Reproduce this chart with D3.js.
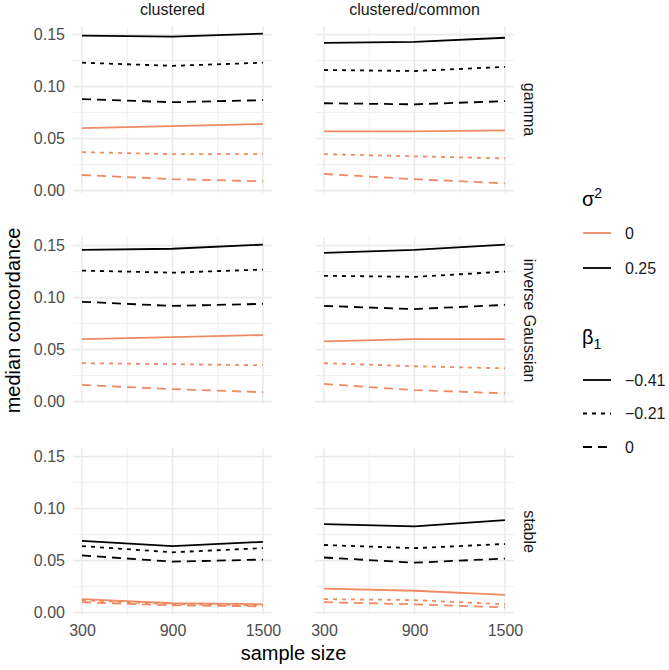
<!DOCTYPE html>
<html><head><meta charset="utf-8">
<script src="https://cdn.jsdelivr.net/npm/d3@7"></script>
<style>body{margin:0;background:#fff}text{font-family:"Liberation Sans",Arial,Helvetica,sans-serif}</style>
</head><body><svg id="c" width="669" height="670"></svg>
<script>
const sampleSizes = [300, 900, 1500];
const models = ["clustered", "clustered/common"];
const distributions = ["gamma", "inverse Gaussian", "stable"];
const sigma2Levels = ["0", "0.25"];
const beta1Levels = ["\u22120.41", "\u22120.21", "0"];
const yTicks = [0, 0.05, 0.10, 0.15];
const yMinor = [0.025, 0.075, 0.125];
const xMinor = [600, 1200];

// rows: sigma2 "0" (beta -0.41, -0.21, 0), sigma2 "0.25" (beta -0.41, -0.21, 0)
const gammaClustered = [[0.060,0.062,0.064],[0.037,0.035,0.035],[0.015,0.011,0.009],
                        [0.149,0.148,0.151],[0.123,0.120,0.123],[0.088,0.085,0.087]];
const gammaCommon    = [[0.057,0.057,0.058],[0.035,0.033,0.031],[0.016,0.011,0.007],
                        [0.142,0.143,0.147],[0.116,0.115,0.119],[0.084,0.083,0.086]];
const invGaussClustered = [[0.060,0.062,0.064],[0.037,0.036,0.035],[0.016,0.012,0.009],
                           [0.146,0.147,0.151],[0.126,0.124,0.127],[0.096,0.092,0.094]];
const invGaussCommon    = [[0.058,0.060,0.060],[0.037,0.034,0.032],[0.017,0.011,0.008],
                           [0.143,0.146,0.151],[0.121,0.120,0.125],[0.092,0.089,0.093]];
const stableClustered = [[0.013,0.009,0.008],[0.012,0.008,0.007],[0.010,0.007,0.006],
                         [0.069,0.064,0.068],[0.064,0.058,0.062],[0.055,0.049,0.051]];
const stableCommon    = [[0.023,0.021,0.017],[0.013,0.012,0.008],[0.010,0.008,0.005],
                         [0.085,0.083,0.089],[0.065,0.062,0.066],[0.053,0.048,0.052]];

const panelData = [[gammaClustered, gammaCommon],[invGaussClustered, invGaussCommon],[stableClustered, stableCommon]];

const colors = {"0": "#EF8A62", "0.25": "#000000"};
const dashes = ["none", "4,5", "9,6"];

const svg = d3.select("#c");
const W = 199, H = 167;
const colX = [73, 315];
const rowY = [26, 237, 448];

const allVals = panelData.flat(3);
const lo = d3.min(allVals), hi = d3.max(allVals), pad = (hi - lo) * 0.05;
const x = d3.scaleLinear().domain([300 - 60, 1500 + 60]).range([0, W]);
const y = d3.scaleLinear().domain([lo - pad, hi + pad]).range([H, 0]);

const gridCol = "#EBEBEB";
distributions.forEach((dist, r) => {
  models.forEach((mod, c) => {
    const g = svg.append("g").attr("transform", `translate(${colX[c]},${rowY[r]})`);
    yMinor.forEach(v => g.append("line").attr("x1",0).attr("x2",W).attr("y1",y(v)).attr("y2",y(v)).attr("stroke",gridCol).attr("stroke-width",0.8));
    xMinor.forEach(v => g.append("line").attr("x1",x(v)).attr("x2",x(v)).attr("y1",0).attr("y2",H).attr("stroke",gridCol).attr("stroke-width",0.8));
    yTicks.forEach(v => g.append("line").attr("x1",0).attr("x2",W).attr("y1",y(v)).attr("y2",y(v)).attr("stroke",gridCol).attr("stroke-width",1.6));
    sampleSizes.forEach(v => g.append("line").attr("x1",x(v)).attr("x2",x(v)).attr("y1",0).attr("y2",H).attr("stroke",gridCol).attr("stroke-width",1.6));

    const line = d3.line().x((d,i) => x(sampleSizes[i])).y(d => y(d));
    const rows = panelData[r][c];
    rows.forEach((vals, k) => {
      const s = sigma2Levels[Math.floor(k / 3)];
      const b = k % 3;
      g.append("path").attr("d", line(vals)).attr("fill","none")
        .attr("stroke", colors[s]).attr("stroke-width", 1.8)
        .attr("stroke-dasharray", dashes[b]);
    });

    if (c === 0) {
      const ax = d3.axisLeft(y).tickValues(yTicks).tickFormat(d3.format(".2f")).tickSize(0).tickPadding(8);
      const a = g.append("g").call(ax);
      a.select(".domain").remove();
      a.selectAll("text").attr("font-size", 16).attr("fill", "#4D4D4D");
    }
    if (r === 2) {
      const ax = d3.axisBottom(x).tickValues(sampleSizes).tickFormat(d3.format("d")).tickSize(0).tickPadding(10);
      const a = g.append("g").attr("transform", `translate(0,${H})`).call(ax);
      a.select(".domain").remove();
      a.selectAll("text").attr("font-size", 16).attr("fill", "#4D4D4D");
    }
    if (r === 0) {
      svg.append("text").attr("x", colX[c] + W/2).attr("y", 15).attr("text-anchor","middle")
        .attr("font-size", 16).attr("fill", "#1A1A1A").text(mod);
    }
    if (c === 1) {
      svg.append("text").attr("transform", `translate(${colX[1] + W + 10},${rowY[r] + H/2}) rotate(90)`)
        .attr("text-anchor","middle").attr("font-size", 16).attr("fill", "#1A1A1A").text(dist);
    }
  });
});

svg.append("text").attr("transform", `translate(20,${(rowY[0] + rowY[2] + H)/2}) rotate(-90)`)
  .attr("text-anchor","middle").attr("font-size", 20).attr("fill","#000").text("median concordance");
svg.append("text").attr("x", (colX[0] + colX[1] + W)/2).attr("y", 660)
  .attr("text-anchor","middle").attr("font-size", 20).attr("fill","#000").text("sample size");

// legends
const lx = 583;
const t1 = svg.append("text").attr("x", lx - 1).attr("y", 206).attr("font-size", 20).attr("fill","#000");
t1.append("tspan").text("\u03C3");
t1.append("tspan").attr("dy", -8).attr("font-size", 14).text("2");
sigma2Levels.forEach((s, i) => {
  const yy = 233 + i * 35;
  svg.append("line").attr("x1", lx).attr("x2", lx + 28).attr("y1", yy).attr("y2", yy)
    .attr("stroke", colors[s]).attr("stroke-width", 1.8);
  svg.append("text").attr("x", lx + 42).attr("y", yy + 5.5).attr("font-size", 16).attr("fill","#1A1A1A").text(s);
});
const t2 = svg.append("text").attr("x", lx - 1).attr("y", 344).attr("font-size", 20).attr("fill","#000");
t2.append("tspan").text("\u03B2");
t2.append("tspan").attr("dy", 5).attr("font-size", 14).text("1");
beta1Levels.forEach((b, i) => {
  const yy = 380 + i * 33.5;
  svg.append("line").attr("x1", lx).attr("x2", lx + 28).attr("y1", yy).attr("y2", yy)
    .attr("stroke", "#000").attr("stroke-width", 1.8).attr("stroke-dasharray", dashes[i]);
  svg.append("text").attr("x", lx + 42).attr("y", yy + 5.5).attr("font-size", 16).attr("fill","#1A1A1A").text(b);
});
</script></body></html>
